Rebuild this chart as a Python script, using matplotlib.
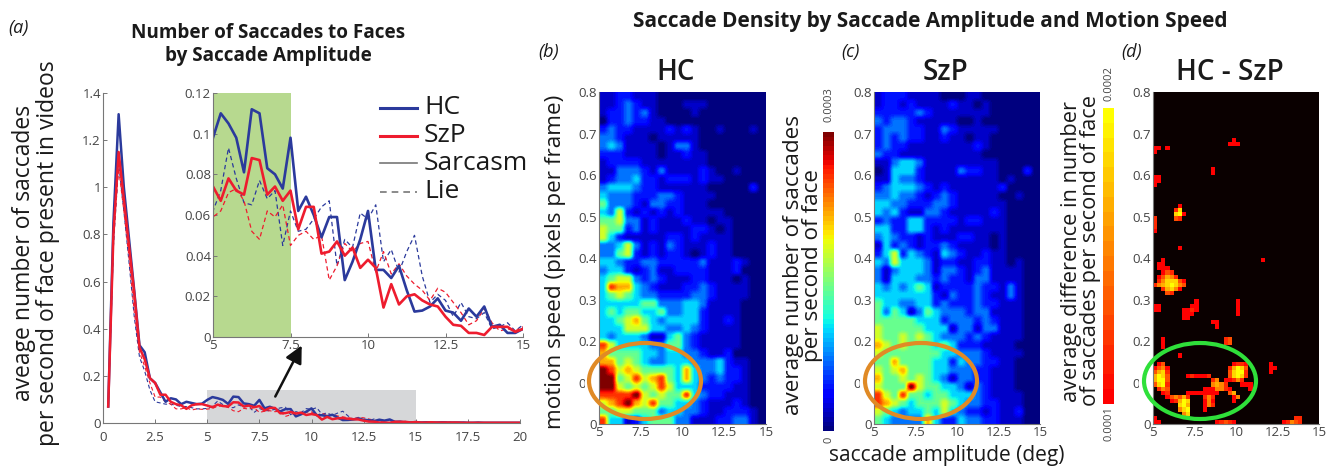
import matplotlib
matplotlib.use("Agg")
import matplotlib.pyplot as plt
import numpy as np
from matplotlib.patches import Ellipse, Rectangle

plt.rcParams['font.family'] = ['Open Sans', 'DejaVu Sans']

# saccade amplitude, every 0.25 deg up to 20
amplitude = [0.25 * k for k in range(1, 81)]

hc_sarcasm = [.07, .85, 1.31, 1.0, .78, .56, .33, .30, .19, .17, .13, .09, .105, .10, .08, .09, .085, .08, .082,
              .098, .110, .105, .098, .081, .112, .110, .083, .080, .073, .098, .062, .069, .060, .049, .059, .059,
              .028, .037, .048, .062, .033, .033, .029, .035, .023, .0125, .013, .015, .019, .013, .012, .008, .014,
              .010, .015, .005, .006, .002, .002, .004,
              .002, .003, .002, .002, .003, .002, .002, .002, .002, .001, .001, .002, .001, .001, .001, .001, .001, .001, .001, .001]
szp_sarcasm = [.07, .80, 1.15, .95, .75, .55, .32, .27, .19, .17, .12, .12, .09, .08, .075, .06, .075, .08, .08,
               .074, .067, .078, .072, .070, .088, .087, .070, .074, .067, .072, .053, .064, .064, .041, .042, .047,
               .040, .044, .034, .038, .034, .0145, .026, .016, .020, .021, .018, .016, .015, .010, .006, .0055, .002,
               .002, .001, .005, .005, .005, .0025, .004,
               .002, .002, .003, .002, .002, .002, .002, .002, .001, .001, .001, .001, .001, .001, .001, .001, .001, .001, .001, .001]
hc_lie = [.07, .75, 1.10, .90, .68, .45, .28, .22, .14, .09, .085, .08, .08, .075, .07, .07, .065, .06, .06,
          .062, .072, .093, .078, .066, .065, .077, .068, .072, .045, .062, .052, .053, .058, .064, .067, .035,
          .048, .044, .061, .058, .065, .037, .043, .032, .042, .050, .030, .017, .021, .018, .010, .017, .010,
          .009, .012, .004, .005, .007, .003, .006,
          .003, .003, .004, .002, .003, .004, .002, .002, .003, .002, .002, .002, .001, .002, .001, .001, .001, .001, .001, .001]
szp_lie = [.07, .80, 1.08, .90, .70, .47, .30, .24, .17, .11, .11, .09, .08, .06, .06, .065, .055, .06, .058,
           .059, .062, .071, .073, .067, .052, .048, .062, .059, .065, .045, .050, .052, .048, .050, .028, .035,
           .046, .042, .046, .047, .032, .042, .031, .036, .030, .026, .023, .018, .024, .022, .017, .012, .006,
           .008, .014, .007, .003, .004, .003, .005,
           .003, .002, .003, .003, .002, .002, .003, .002, .001, .002, .001, .001, .002, .001, .001, .001, .001, .001, .001, .001]

hc_rows = [
    "1122111", "11232110001110", "122323100001", "022322110000", "2322111121210010001",
    "3321110111110", "343111101331", "2221111011211", "12222111111110", "11333213111121001",
    "1233422122212110", "3444322111111000002", "4333222332111100", "5333213322111", "4362121212111110",
    "5563312111211011", "6552312111122101", "6421111122121111", "3346312132111211", "3356212122101211",
    "44322332222231112100", "34421231122221112", "456632321112211101", "487743211122321111", "456543322223321111",
    "44444553334431111", "45455445334421111", "44567543444421121", "44466644334321111", "43444311453211111",
    "86444433553211111", "7555544344332112", "775654334443334211", "986765555474334221", "995686785474323221",
    "996565686444222211", "888896565584322111", "678976855443211121", "5566555344332112221", "8441245553311122331",
]
szp_rows = [
    "1222111100011", "12212111121101", "22222321111111", "3233211111001", "233322113211111",
    "23232211211011", "23221111111121", "3221111111111", "1134431111111110", "0144421111322110002",
    "11433211111111101", "2344432121111112", "334332123211111001", "4433222332111111", "4342113321111121",
    "2322442222122111", "4422442121111111", "3432212111221101", "1423212232111101", "2462432143211211",
    "436444312211221101", "313444313321231111", "314443323221331111", "434345412222322131", "444444421322321131",
    "544334423222322111", "535413543332331111", "555554442333232111", "655555444133133111", "655656543332321111",
    "76565554542221111", "655555554433321111", "55755554424332211", "65675554433322111", "75565654313322111",
    "65559655443132111", "865855455444321111", "876545556543322111", "654344546432212112", "543333742243322111",
]
# digit to share of the colour range
jet_levels = [0, .07, .15, .24, .34, .47, .60, .72, .85, 1]

# finer grid for the difference map, only cells over threshold
diff_rows = [
    "", "", "", "", "", "", "", "", "", "", "",
    "...................3", "..................233", "33.3", "3", "", "", "",
    "..............3", "..............3", "33", "33", "3", "", "", "", "",
    "......3", ".....48", ".....893", "4....54", "4", "4", "3", "", "", "",
    "......3", "", "",
    "..3.......................3", ".33", ".333", "..354", ".35764", ".4688853", "46789865", "..47863", "...54", "",
    "..........3.........3", "33.......33.........3", "33.....3343.........3", ".......333..........3", ".......33",
    "..............33", "...............3", "", "",
    "..3..............45", "..3..............45", "..3", "", "......3", "",
    ".35................3443.....3",
    "3563..............47985.....33",
    "5784..............58994.....3",
    "7985....343334....58984",
    "7995..........46.33464",
    "5894..........6764...333",
    ".465........3336643....3",
    "..34....33333333..57",
    "...356574...464....36",
    "....34798...363....3",
    "......897...364",
    "......689...3",
    ".......68",
    "3.................................44",
    "33.............34543...........34654",
]

panel_ticks = [5, 7.5, 10, 12.5, 15]
panel_tick_labels = ['5', '7.5', '10', '12.5', '15']
speed_ticks = [0, .1, .2, .3, .4, .5, .6, .7, .8]
speed_tick_labels = ['0', '0.1', '0.2', '0.3', '0.4', '0.5', '0.6', '0.7', '0.8']
main_xticks = [0, 2.5, 5, 7.5, 10, 12.5, 15, 17.5, 20]
main_xtick_labels = ['0', '2.5', '5', '7.5', '10', '12.5', '15', '17.5', '20']
main_yticks = [0, .2, .4, .6, .8, 1, 1.2, 1.4]
main_ytick_labels = ['0', '0.2', '0.4', '0.6', '0.8', '1', '1.2', '1.4']
inset_yticks = [0, .02, .04, .06, .08, .1, .12]
inset_ytick_labels = ['0', '0.02', '0.04', '0.06', '0.08', '0.1', '0.12']

W, H = 1337, 469
BLUE = '#2b3a9c'
RED = '#ee1c2e'
GREY = '#444444'


def grid(rows, cols):
    return np.array([[0 if c == '.' else int(c) for c in r.ljust(cols, '0')] for r in rows], dtype=float)


def jet_grid(rows):
    return np.array(jet_levels)[grid(rows, 20).astype(int)] * 0.0003


def axes_px(left, top, right, bottom):
    return fig.add_axes([left / W, 1 - bottom / H, (right - left) / W, (bottom - top) / H])


def style(ax, xt, xl, yt, yl):
    for s in ['top', 'right']:
        ax.spines[s].set_visible(False)
    for s in ['left', 'bottom']:
        ax.spines[s].set_color('#777777')
    ax.set_xticks(xt, xl)
    ax.set_yticks(yt, yl)
    ax.tick_params(direction='in', length=3, width=0.7, color='#777777', labelcolor=GREY,
                   labelsize=9.5, pad=1.5)


def draw_lines(ax, thick, thin):
    ax.plot(amplitude, hc_lie, color=BLUE, lw=thin, ls=(0, (3.5, 2.5)))
    ax.plot(amplitude, szp_lie, color=RED, lw=thin, ls=(0, (3.5, 2.5)))
    ax.plot(amplitude, hc_sarcasm, color=BLUE, lw=thick)
    ax.plot(amplitude, szp_sarcasm, color=RED, lw=thick)


fig = plt.figure(figsize=(W / 100, H / 100), dpi=100)

# panel a
ax = axes_px(103, 93, 520, 423)
ax.add_patch(Rectangle((5, 0), 10, 0.14, color='#d6d7d9', lw=0))
draw_lines(ax, 1.8, 0.8)
ax.set_xlim(0, 20)
ax.set_ylim(0, 1.4)
style(ax, main_xticks, main_xtick_labels, main_yticks, main_ytick_labels)
ax.tick_params(axis='x', pad=6)

inset = axes_px(213, 93, 523, 337)
inset.patch.set_alpha(0)
inset.axvspan(5, 7.5, color='#b7d98f', lw=0)
draw_lines(inset, 1.9, 0.9)
inset.set_xlim(5, 15)
inset.set_ylim(0, 0.12)
style(inset, panel_ticks, panel_tick_labels, inset_yticks, inset_ytick_labels)

# panels b, c, d
jet = plt.get_cmap('jet', 64)
hot = plt.get_cmap('autumn', 20).copy()
hot.set_bad('#0a0000')
extent = [5, 15, 0, 0.8]

ax_b = axes_px(599, 92, 766, 424)
im_b = ax_b.imshow(jet_grid(hc_rows), cmap=jet, vmin=0, vmax=0.0003, extent=extent,
                   aspect='auto', interpolation='hanning')
ax_c = axes_px(874, 92, 1040, 424)
ax_c.imshow(jet_grid(szp_rows), cmap=jet, vmin=0, vmax=0.0003, extent=extent,
            aspect='auto', interpolation='hanning')
ax_d = axes_px(1153, 92, 1319, 424)
diff = np.ma.masked_equal(grid(diff_rows, 40), 0)
im_d = ax_d.imshow(0.0001 + (diff - 3) * 0.0001 / 6, cmap=hot, vmin=0.0001, vmax=0.0002, extent=extent,
                   aspect='auto', interpolation='nearest')
for a in [ax_b, ax_c, ax_d]:
    style(a, panel_ticks, panel_tick_labels, speed_ticks, speed_tick_labels)
    a.tick_params(length=0)

cax1 = axes_px(823, 132, 834, 431)
fig.colorbar(im_b, cax=cax1)
cax2 = axes_px(1103, 108, 1114, 404)
fig.colorbar(im_d, cax=cax2)
for c in [cax1, cax2]:
    c.set_xticks([])
    c.set_yticks([])
    for s in c.spines.values():
        s.set_visible(False)

# everything placed by pixel goes on a top layer
top = fig.add_axes([0, 0, 1, 1], zorder=10)
top.set_xlim(0, W)
top.set_ylim(H, 0)
top.axis('off')
top.patch.set_alpha(0)


def label(x, y, s, size, **kw):
    kw.setdefault('color', '#1a1a1a')
    top.text(x, y, s, fontsize=size, ha=kw.pop('ha', 'center'), va=kw.pop('va', 'center'), **kw)


label(18, 28, '(a)', 13, style='italic')
label(549, 52, '(b)', 13, style='italic')
label(850, 52, '(c)', 13, style='italic')
label(1132, 52, '(d)', 13, style='italic')
label(268, 44, 'Number of Saccades to Faces\nby Saccade Amplitude', 13.6, weight='bold', linespacing=1.2)
label(930, 21, 'Saccade Density by Saccade Amplitude and Motion Speed', 15, weight='bold')
label(676, 72, 'HC', 20, weight='semibold')
label(946, 72, 'SzP', 20, weight='semibold')
label(1230, 72, 'HC - SzP', 20, weight='semibold')
label(36, 253, 'aveage number of saccades\nper second of face present in videos', 16.5, rotation=90, linespacing=1.0)
label(556, 262, 'motion speed (pixels per frame)', 16.2, rotation=90)
label(803, 265, 'average number of saccades\nper second of face', 16.2, rotation=90, linespacing=0.9)
label(1081, 251, 'average difference in number\nof saccades per second of face', 15.7, rotation=90, linespacing=0.9)
label(947, 456, 'saccade amplitude (deg)', 15)
label(829, 440, '0', 8, rotation=90, color=GREY)
label(829, 105, '0.0003', 8, rotation=90, color=GREY)
label(1109, 424, '0.0001', 8, rotation=90, color=GREY)
label(1109, 84, '0.0002', 8, rotation=90, color=GREY)

# legend
for y, s, col, ls in [(108, 'HC', BLUE, '-'), (136, 'SzP', RED, '-'),
                      (163, 'Sarcasm', '#777777', '-'), (192, 'Lie', '#777777', (0, (4, 3)))]:
    top.plot([380, 417], [y, y], color=col, ls=ls, lw=2.2 if col != '#777777' else 1.2)
    label(424, y, s, 19, ha='left')

top.annotate('', xy=(303, 343), xytext=(274, 399),
             arrowprops=dict(arrowstyle='-|>', color='#111111', lw=1.8, mutation_scale=26))

# the ovals hide the .1 of the tick label next to them
for x, left, col in [(645, 599, '#e08a25'), (921, 874, '#e08a25'), (1200, 1153, '#2fe03a')]:
    top.add_patch(Rectangle((left - 14, 374), 13, 14, color='white', lw=0))
    top.add_patch(Ellipse((x, 381), 112, 76, fill=False, ec=col, lw=3))

fig.savefig('out.png', dpi=100)
